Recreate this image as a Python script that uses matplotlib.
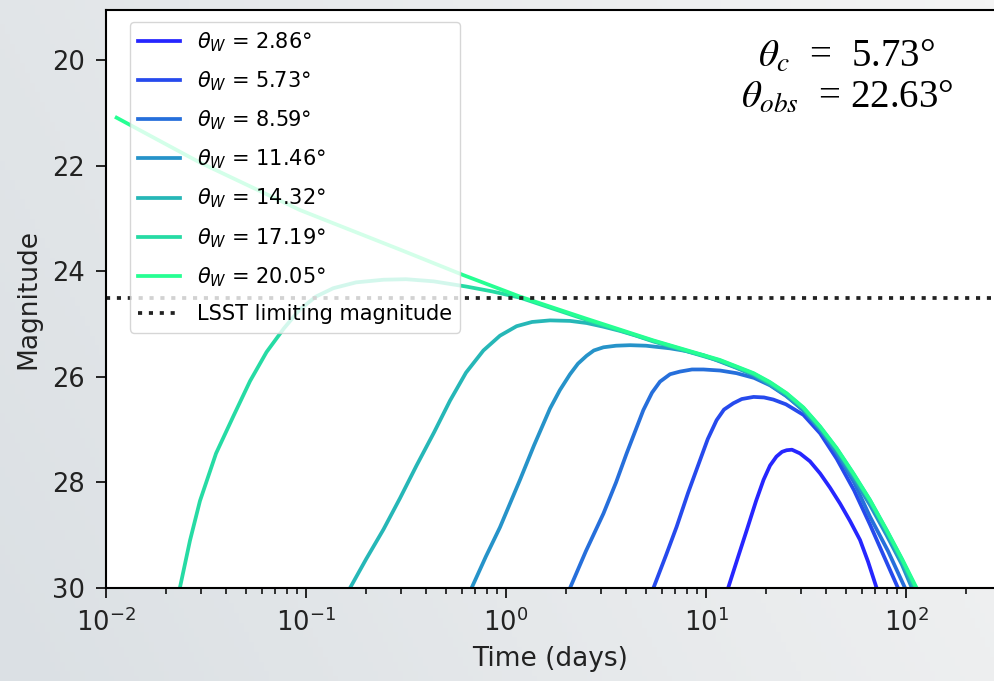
import numpy as np
import matplotlib.pyplot as plt
from matplotlib.colors import LinearSegmentedColormap

# light curves: time (days) and magnitude, one pair per jet width
t_2_86 = [12.9, 14.5, 16.0, 17.8, 19.4, 20.9, 22.5, 24.0, 25.3, 26.9, 29.5, 33.1, 37.2,
          41.7, 46.8, 52.5, 58.9, 64.6, 71.3]
m_2_86 = [30.0, 29.4, 28.9, 28.35, 27.95, 27.68, 27.51, 27.42, 27.39, 27.38, 27.45, 27.6, 27.83,
          28.1, 28.4, 28.73, 29.09, 29.5, 30.0]

t_5_73 = [5.46, 6.31, 7.13, 8.13, 9.33, 10.2, 11.3, 12.3, 13.7, 15.1, 17.3, 19.5, 21.7,
          25.1, 30.7, 37.2, 45.0, 55.0, 66.1, 77.6, 91.2]
m_5_73 = [30.0, 29.38, 28.84, 28.2, 27.58, 27.18, 26.82, 26.62, 26.5, 26.42, 26.38, 26.39, 26.43,
          26.52, 26.72, 27.07, 27.55, 28.15, 28.8, 29.4, 30.0]

t_8_59 = [2.09, 2.51, 3.07, 3.55, 4.01, 4.86, 5.37, 5.89, 6.61, 7.41, 8.51, 9.7, 11.75,
          14.2, 17.4, 20.9, 25.1, 30.7, 37.2, 45.0, 55.0, 66.1, 81.3, 98.9]
m_8_59 = [30.0, 29.3, 28.59, 28.0, 27.45, 26.63, 26.3, 26.09, 25.95, 25.9, 25.86, 25.86, 25.88,
          25.93, 26.02, 26.16, 26.36, 26.63, 26.98, 27.45, 28.0, 28.65, 29.3, 30.0]

t_11_46 = [0.673, 0.794, 0.933, 1.175, 1.38, 1.66, 1.86, 2.09, 2.29, 2.53, 2.75, 3.07, 3.55,
           4.17, 5.01, 6.61, 7.94, 9.7, 11.75, 14.2, 17.3, 20.9, 25.3, 30.7, 37.2, 45.0,
           54.6, 66.1, 80.0, 95.5, 107.0]
m_11_46 = [30.0, 29.4, 28.85, 27.95, 27.3, 26.6, 26.25, 25.95, 25.75, 25.6, 25.5, 25.44, 25.41,
           25.4, 25.41, 25.46, 25.51, 25.59, 25.71, 25.83, 25.97, 26.15, 26.36, 26.64, 27.0, 27.42,
           27.91, 28.43, 29.0, 29.56, 30.0]

t_14_32 = [0.166, 0.2, 0.244, 0.295, 0.357, 0.437, 0.525, 0.631, 0.771, 0.933, 1.13, 1.35,
           1.66, 2.09, 2.53, 3.07, 3.72, 4.47, 5.46, 11.75, 17.3, 25.3, 30.7, 37.2, 45.0,
           54.6, 66.1, 80.0, 95.5, 110.0]
m_14_32 = [30.0, 29.45, 28.89, 28.3, 27.68, 27.05, 26.45, 25.92, 25.5, 25.22, 25.04, 24.96,
           24.93, 24.94, 24.98, 25.05, 25.13, 25.22, 25.33, 25.7, 25.95, 26.33, 26.6, 26.96, 27.37,
           27.86, 28.36, 28.93, 29.5, 30.0]

t_17_19 = [0.0234, 0.0263, 0.0295, 0.0355, 0.0434, 0.0525, 0.0635, 0.0776, 0.0933, 0.112,
           0.137, 0.178, 0.244, 0.316, 0.434, 0.635, 0.85, 1.175, 2.53, 5.46, 11.75, 17.3,
           20.9, 25.3, 30.7, 37.2, 45.0, 54.6, 66.1, 80.0, 95.5, 112.0]
m_17_19 = [30.0, 29.1, 28.35, 27.45, 26.74, 26.08, 25.53, 25.08, 24.72, 24.48,
           24.32, 24.21, 24.16, 24.15, 24.19, 24.29, 24.38, 24.5, 24.92, 25.32, 25.69, 25.94,
           26.11, 26.32, 26.59, 26.95, 27.36, 27.84, 28.34, 28.91, 29.46, 30.0]

t_20_05 = [0.0113, 0.0295, 0.0933, 0.3, 0.61, 1.175, 2.53, 5.46, 11.75, 17.3, 20.9,
           25.3, 30.7, 37.2, 45.0, 54.6, 66.0, 80.0, 95.5, 113.0]
m_20_05 = [21.09, 21.94, 22.84, 23.6, 24.07, 24.48, 24.9, 25.31, 25.68, 25.93, 26.1,
           26.31, 26.58, 26.94, 27.35, 27.83, 28.33, 28.9, 29.45, 30.0]

times = [t_2_86, t_5_73, t_8_59, t_11_46, t_14_32, t_17_19, t_20_05]
mags = [m_2_86, m_5_73, m_8_59, m_11_46, m_14_32, m_17_19, m_20_05]
theta_w = ['2.86', '5.73', '8.59', '11.46', '14.32', '17.19', '20.05']
lsst_limit = 24.5

fig = plt.figure(figsize=(9.95, 6.81), dpi=100)

# slide background (soft grey gradient)
bg = fig.add_axes([0, 0, 1, 1], zorder=-10)
gx, gy = np.meshgrid(np.linspace(0, 1, 200), np.linspace(0, 1, 140))
bg.imshow(gx + 0.35 * gy, aspect='auto', origin='lower',
          cmap=LinearSegmentedColormap.from_list('bg', ['#dbe0e4', '#f4f4f4']))
bg.axis('off')

ax = fig.add_axes([106/995, 93/681, 889/995, 578/681])
colors = plt.cm.winter(np.linspace(0, 1, len(theta_w)))[:, :3] * 0.85 + 0.15
for t, m, th, c in zip(times, mags, theta_w, colors):
    ax.plot(t, m, color=c, lw=2.7, label=r'$\theta_W$ = ' + th + '°')
ax.axhline(lsst_limit, color='#222222', lw=2.7, dashes=(1.1, 1.8),
           label='LSST limiting magnitude')

ax.set_xscale('log')
ax.set_xlim(1e-2, 10**2.445)
ax.set_ylim(30, 19.05)
ax.set_yticks([20, 22, 24, 26, 28, 30])
ax.spines['right'].set_visible(False)
for s in ax.spines.values():
    s.set_linewidth(1.5)
ax.tick_params(which='major', length=7, width=1.4, labelsize=18.5, pad=8, colors='#222222')
ax.tick_params(which='minor', length=4.5, width=1.1)
ax.set_xlabel('Time (days)', fontsize=19, color='#222222', labelpad=6)
ax.set_ylabel('Magnitude', fontsize=19, color='#222222', labelpad=8)

ax.legend(loc='upper left', bbox_to_anchor=(24/889, 1 - 12/578), borderaxespad=0,
          fontsize=15, labelspacing=0.745, handlelength=2.0)

fig.text(847/995, 1 - 67/681, r'$\theta_c$  =  5.73°', ha='center', va='baseline',
         fontsize=28, family='Liberation Serif', math_fontfamily='stix')
fig.text(847/995, 1 - 108/681, r'$\theta_{obs}$  = 22.63°', ha='center', va='baseline',
         fontsize=28, family='Liberation Serif', math_fontfamily='stix')

fig.savefig('out.png', dpi=100)
